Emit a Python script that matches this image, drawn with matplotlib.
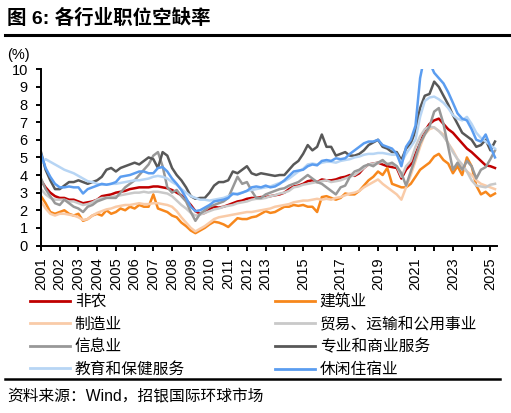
import matplotlib
matplotlib.use("Agg")
import matplotlib.pyplot as plt
from matplotlib.lines import Line2D
import pandas as pd
import numpy as np

plt.rcParams['font.family'] = ['Liberation Sans', 'Noto Sans CJK SC']

# quarterly observations, 2001Q1 .. 2025Q2
dates = pd.date_range('2001-01-01', periods=98, freq='QS')

nonfarm = [3.7, 3.3, 3.0, 2.8, 2.7, 2.7, 2.6, 2.6, 2.5, 2.4, 2.45, 2.5, 2.6, 2.8, 2.85, 2.9,
           3.0, 3.05, 3.1, 3.2, 3.25, 3.3, 3.3, 3.3, 3.35, 3.35, 3.3, 3.25, 3.15, 3.0, 2.85, 2.6,
           2.3, 1.95, 1.8, 1.85, 2.05, 2.2, 2.15, 2.2, 2.3, 2.4, 2.5, 2.55, 2.65, 2.7, 2.7, 2.75,
           2.75, 2.8, 2.85, 2.9, 3.0, 3.2, 3.35, 3.4, 3.5, 3.65, 3.7, 3.6, 3.75, 3.7, 3.7, 3.75,
           3.85, 3.9, 4.0, 3.95, 4.1, 4.4, 4.6, 4.65, 4.7, 4.6, 4.5, 4.45, 4.4, 3.8, 4.3, 4.6,
           5.2, 5.8, 6.5, 6.9, 7.1, 7.2, 6.9, 6.6, 6.4, 6.1, 5.8, 5.5, 5.3, 5.05, 4.8, 4.55,
           4.5, 4.4]
construction = [2.8, 2.4, 1.9, 1.8, 1.9, 2.0, 1.8, 1.7, 1.8, 1.4, 1.5, 1.7, 1.8, 1.7, 2.0, 1.8,
                1.9, 2.1, 2.0, 2.2, 2.1, 2.3, 2.2, 2.2, 2.9, 2.1, 2.0, 1.9, 1.7, 1.6, 1.3, 1.1,
                0.85, 0.7, 0.85, 1.0, 1.2, 1.35, 1.3, 1.2, 1.05, 1.3, 1.55, 1.5, 1.5, 1.6, 1.65, 1.8,
                1.95, 1.85, 1.9, 2.05, 2.2, 2.2, 2.3, 2.25, 2.3, 2.2, 2.2, 1.9, 2.75, 2.8, 2.7, 2.6,
                2.7, 2.95, 2.9, 2.9, 3.1, 3.4, 3.7, 3.9, 4.2, 4.0, 4.4, 3.5, 3.4, 3.3, 3.3, 3.5,
                3.9, 4.3, 4.5, 4.7, 5.05, 5.2, 4.85, 4.65, 4.1, 4.5, 4.0, 5.0, 4.5, 3.4, 2.9, 3.05,
                2.8, 2.95]
manufacturing = [2.5, 2.1, 1.8, 1.7, 1.8, 1.8, 1.75, 1.7, 1.6, 1.45, 1.5, 1.7, 1.85, 1.95, 2.05, 2.1,
                 2.2, 2.25, 2.3, 2.3, 2.35, 2.4, 2.35, 2.35, 2.4, 2.4, 2.35, 2.3, 2.2, 1.95, 1.6, 1.3,
                 1.0, 0.8, 0.95, 1.1, 1.3, 1.5, 1.6, 1.65, 1.7, 1.75, 1.8, 1.85, 1.9, 1.9, 1.95, 2.0,
                 2.05, 2.1, 2.2, 2.25, 2.3, 2.35, 2.45, 2.5, 2.55, 2.55, 2.6, 2.65, 2.6, 2.65, 2.6, 2.7,
                 2.75, 2.85, 2.95, 3.0, 3.1, 3.3, 3.45, 3.6, 3.75, 3.5, 3.3, 3.1, 2.9, 2.6, 3.3, 4.0,
                 4.8, 5.6, 6.3, 6.6, 6.7, 6.5, 6.3, 5.8, 5.4, 4.9, 4.5, 4.2, 4.0, 3.7, 3.5, 3.4,
                 3.3, 3.2]
trade = [3.2, 2.9, 2.7, 2.6, 2.6, 2.6, 2.5, 2.5, 2.4, 2.3, 2.35, 2.45, 2.6, 2.7, 2.7, 2.75,
         2.8, 2.85, 2.9, 2.95, 3.0, 3.0, 3.05, 3.0, 3.05, 3.05, 3.0, 2.95, 2.8, 2.55, 2.3, 2.1,
         1.85, 1.7, 1.75, 1.85, 1.95, 2.05, 2.1, 2.2, 2.25, 2.3, 2.4, 2.45, 2.5, 2.6, 2.65, 2.65,
         2.7, 2.8, 2.85, 2.95, 3.0, 3.1, 3.3, 3.35, 3.45, 3.5, 3.55, 3.6, 3.65, 3.7, 3.6, 3.65,
         3.7, 3.8, 3.9, 4.0, 4.2, 4.4, 4.6, 4.65, 4.7, 4.75, 4.65, 4.6, 4.5, 3.9, 4.5, 4.8,
         5.6, 6.2, 6.6, 6.75, 6.7, 6.5, 6.2, 5.8, 5.3, 4.9, 4.6, 4.2, 3.7, 3.4, 3.35, 3.3,
         3.45, 3.5]
information = [3.8, 3.2, 2.8, 2.4, 2.3, 2.6, 2.4, 2.2, 2.1, 1.9, 2.2, 2.3, 2.5, 2.6, 2.7, 2.7,
               2.7, 3.0, 3.3, 3.5, 3.7, 4.0, 4.3, 4.6, 5.1, 5.3, 4.5, 3.3, 3.0, 3.15, 2.8, 2.5,
               1.9, 1.4, 1.8, 2.0, 2.2, 2.3, 2.4, 2.5, 2.7, 3.3, 3.9, 3.5, 3.6, 3.1, 2.7, 2.7,
               2.9, 3.0, 3.1, 3.2, 3.25, 3.4, 3.5, 3.6, 3.8, 4.0, 3.8, 3.6, 3.5, 3.3, 3.1, 2.9,
               3.3, 3.4, 3.9, 4.2, 4.3, 4.5, 4.6, 4.5, 4.7, 4.85, 4.6, 4.7, 4.5, 4.1, 3.4, 4.2,
               5.0, 5.8, 6.3, 6.75, 7.6, 7.8, 6.9, 5.6, 4.3, 4.7, 4.3, 4.8, 4.5, 3.8, 4.3, 4.45,
               4.9, 5.4]
professional = [5.3, 4.3, 3.7, 3.2, 3.2, 3.4, 3.6, 3.6, 3.7, 3.6, 3.5, 3.6, 3.7, 3.9, 4.3, 4.4,
                4.2, 4.4, 4.5, 4.6, 4.7, 4.6, 4.8, 5.0, 4.9, 4.4, 5.3, 5.1, 4.4, 4.0, 3.7, 3.3,
                2.8, 2.65, 2.7, 2.7, 3.0, 3.4, 3.6, 3.6, 3.7, 4.2, 4.1, 4.3, 4.5, 4.1, 4.0, 4.1,
                4.05, 4.0, 3.95, 4.0, 4.0, 4.3, 4.6, 4.8, 5.2, 5.7, 5.4, 5.6, 6.3, 5.6, 5.6, 5.1,
                5.2, 5.3, 5.1, 5.1, 5.2, 5.4, 5.7, 5.85, 6.0, 5.6, 5.5, 5.3, 5.3, 4.85, 5.5, 5.8,
                6.5, 7.8, 8.5, 8.6, 9.3, 9.0, 8.5, 8.0, 7.4, 6.9, 6.4, 6.2, 6.0, 5.6, 5.7, 6.0,
                5.4, 5.9]
education = [4.7, 4.9, 4.75, 4.6, 4.45, 4.3, 4.2, 4.1, 3.95, 3.8, 3.65, 3.6, 3.5, 3.45, 3.45, 3.5,
             3.5, 3.55, 3.6, 3.65, 3.7, 3.7, 3.75, 3.8, 3.9, 3.95, 3.9, 3.8, 3.6, 3.45, 3.2, 3.0,
             2.8, 2.7, 2.6, 2.6, 2.55, 2.6, 2.65, 2.7, 2.8, 2.9, 2.95, 3.0, 3.1, 3.15, 3.2, 3.25,
             3.3, 3.35, 3.45, 3.55, 3.65, 3.8, 4.0, 4.2, 4.35, 4.6, 4.65, 4.6, 4.7, 4.75, 4.75, 4.7,
             4.8, 4.85, 4.9, 5.0, 5.05, 5.15, 5.2, 5.2, 5.25, 5.25, 5.2, 5.15, 5.15, 4.7, 5.2, 5.6,
             6.0, 7.3, 8.2, 8.4, 8.45, 8.3, 8.1, 7.8, 7.4, 7.2, 7.1, 7.3, 6.9, 6.4, 6.1, 5.9,
             5.7, 5.5]
leisure = [5.2, 4.4, 3.9, 3.5, 3.3, 3.3, 3.35, 3.3, 3.3, 2.95, 3.2, 3.3, 3.4, 3.5, 3.45, 3.5,
           3.6, 3.9, 3.95, 4.0, 4.1, 4.2, 4.2, 4.1, 4.1, 4.4, 4.45, 4.2, 3.8, 3.5, 3.15, 2.7,
           2.2, 1.95, 2.0, 2.15, 2.3, 2.5, 2.55, 2.6, 2.7, 2.95, 2.9, 3.0, 3.1, 3.3, 3.35, 3.3,
           3.4, 3.3, 3.35, 3.5, 3.7, 3.95, 4.2, 4.25, 4.3, 4.5, 4.6, 4.55, 4.8, 4.85, 4.8, 4.95,
           4.9, 4.95, 5.2, 5.4, 5.6, 5.8, 5.9, 5.9, 6.0, 5.7, 5.6, 5.5, 5.2, 4.5, 5.6, 6.0,
           6.8, 9.5, 10.8, 10.4, 9.8, 9.5, 9.2, 8.7, 8.1, 7.5, 7.2, 7.1, 6.6, 6.0, 5.9, 6.3,
           5.6, 5.0]

labels = ['非农', '建筑业', '制造业', '贸易、运输和公用事业', '信息业',
          '专业和商业服务', '教育和保健服务', '休闲住宿业']
series = [nonfarm, construction, manufacturing, trade, information,
          professional, education, leisure]
colors = ['#C00000', '#F7871C', '#F9CBA8', '#C9C9C9', '#989898',
          '#585858', '#B7D5F4', '#5B9DF0']

year_ticks = list(range(2001, 2026))
tick_labels = [str(y) if (y <= 2013 or y % 2 == 1) else '' for y in year_ticks]

W, H = 511, 413
fig = plt.figure(figsize=(W / 100, H / 100), dpi=100)
ax = fig.add_axes([41 / W, 1 - 245.5 / H, (497 - 41) / W, (245.5 - 69.3) / H])

lines = []
for s, c, lab in zip(series, colors, labels):
    ln, = ax.plot(dates, s, color=c, lw=1.8, label=lab, solid_joinstyle='round')
    lines.append(ln)

ax.set_ylim(0, 10)
ax.set_yticks(range(0, 11))
ax.set_xlim(pd.Timestamp('2001-01-01'), pd.Timestamp('2025-05-10'))
ax.set_xticks([pd.Timestamp(f'{y}-01-01') for y in year_ticks])
ax.set_xticklabels(tick_labels, rotation=90)
for sp in ['top', 'right']:
    ax.spines[sp].set_visible(False)
for sp in ['left', 'bottom']:
    ax.spines[sp].set_linewidth(1.4)
ax.tick_params(axis='both', direction='out', length=3.5, width=1.4, labelsize=10.5, pad=5)
ax.tick_params(axis='y', pad=6)

# unit label
fig.text(7 / W, 1 - 55 / H, '(%)', fontsize=10.5, ha='left', va='center')

# title and rules
fig.text(7 / W, 1 - 18 / H, '图 6: 各行业职位空缺率', fontsize=14, fontweight='bold',
         ha='left', va='center')
fig.add_artist(Line2D([5 / W, 1.0], [1 - 35 / H, 1 - 35 / H], transform=fig.transFigure,
                      color='black', lw=2.2))
fig.add_artist(Line2D([5 / W, 500 / W], [1 - 379 / H, 1 - 379 / H], transform=fig.transFigure,
                      color='black', lw=1.8))

# legends: two columns
left_idx = [0, 2, 4, 6]
right_idx = [1, 3, 5, 7]
common = dict(frameon=False, fontsize=11.3, handlelength=2.55, handletextpad=0.3,
              labelspacing=0.48, borderpad=0, borderaxespad=0, loc='upper left')
leg1 = fig.legend([lines[i] for i in left_idx], [labels[i] for i in left_idx],
                  bbox_to_anchor=(30 / W, 1 - 294 / H), **common)
leg2 = fig.legend([lines[i] for i in right_idx], [labels[i] for i in right_idx],
                  bbox_to_anchor=(275 / W, 1 - 294 / H), **common)
for lg in (leg1, leg2):
    for h in lg.legend_handles:
        h.set_linewidth(2.0)

fig.text(7 / W, 1 - 396 / H, '资料来源：Wind，招银国际环球市场', fontsize=11.3,
         ha='left', va='center')

fig.savefig('out.png', dpi=100)
